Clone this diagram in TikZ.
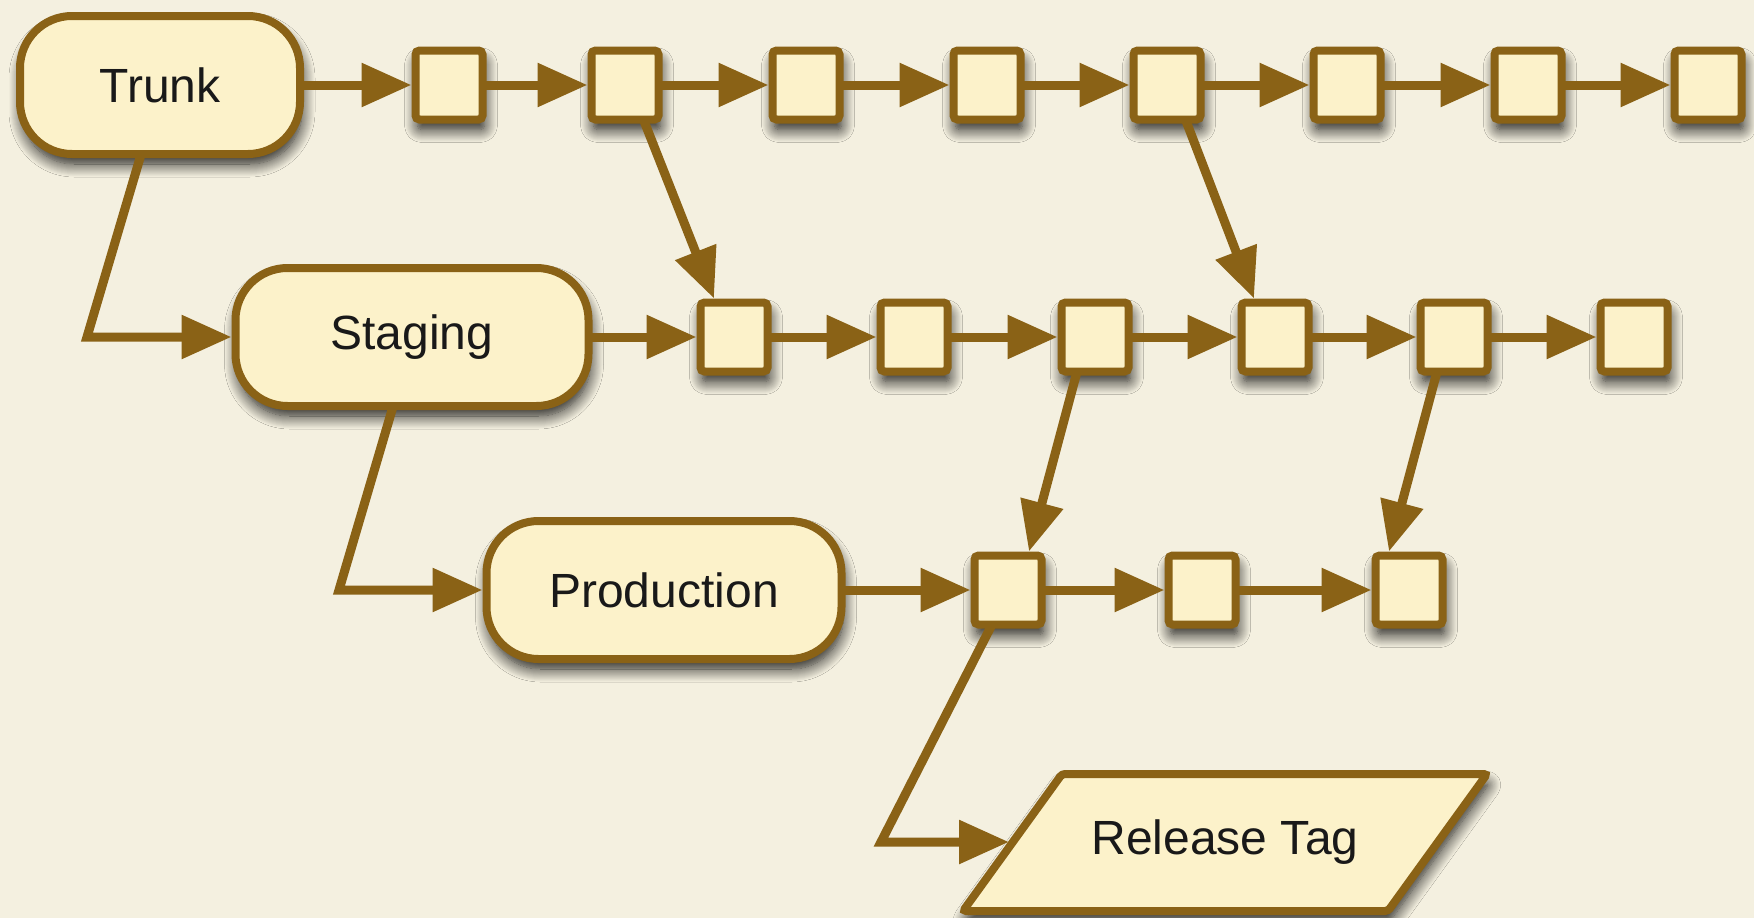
\documentclass[tikz,border=0pt]{standalone}
\usepackage{fontspec}
\setmainfont{Liberation Sans}
\usetikzlibrary{arrows.meta,shadows.blur,calc}
\definecolor{paper}{RGB}{244,240,224}
\definecolor{boxfill}{RGB}{252,242,202}
\definecolor{rim}{RGB}{138,98,22}
\definecolor{ink}{RGB}{25,25,25}
\tikzset{
  dropshadow/.style={blur shadow={shadow xshift=2pt, shadow yshift=-10pt,
      shadow blur radius=13pt, shadow blur steps=14, shadow opacity=90}},
  label font/.style={font=\fontsize{48}{57}\selectfont, text=ink},
  branch/.style={draw=rim, fill=boxfill, line width=8pt, rounded corners=52pt,
      minimum width=#1, minimum height=138pt, inner sep=0pt, label font, dropshadow},
  rev/.style={draw=rim, fill=boxfill, line width=8pt, rounded corners=4pt,
      minimum width=67pt, minimum height=69pt, inner sep=0pt, dropshadow},
  link/.style={draw=rim, line width=9pt, shorten <=-3pt,
      -{Triangle[length=50pt,width=42pt]}},
}
\begin{document}
\begin{tikzpicture}[x=1pt,y=-1pt]
  \path[use as bounding box, fill=paper] (0,0) rectangle (1754,918);

  % branch heads
  \node[branch=280pt] (trunk)      at (160,85)  {Trunk};
  \node[branch=353pt] (staging)    at (412,337) {Staging};
  \node[branch=355pt] (production) at (664,590) {Production};

  % revisions on each branch
  \foreach \x [count=\i] in {449,625,806,987,1167,1347,1528,1708}
    \node[rev] (t\i) at (\x,85) {};
  \foreach \x [count=\i] in {734,914,1095,1275,1454,1634}
    \node[rev] (m\i) at (\x,337) {};
  \foreach \x [count=\i] in {1008,1202,1409}
    \node[rev] (b\i) at (\x,590) {};

  % release tag
  \draw[draw=rim, fill=boxfill, line width=8pt, rounded corners=3pt, dropshadow]
    (1062,774) -- (1487,774) -- (1388,911) -- (963,911) -- cycle;
  \node[label font] (tag) at (1225,842) {Release Tag};
  \coordinate (tagin) at (1009,842);

  % history along each branch
  \draw[link] (trunk.east) -- (t1.west);
  \foreach \a/\b in {1/2,2/3,3/4,4/5,5/6,6/7,7/8}
    \draw[link] (t\a.east) -- (t\b.west);
  \draw[link] (staging.east) -- (m1.west);
  \foreach \a/\b in {1/2,2/3,3/4,4/5,5/6}
    \draw[link] (m\a.east) -- (m\b.west);
  \draw[link] (production.east) -- (b1.west);
  \foreach \a/\b in {1/2,2/3}
    \draw[link] (b\a.east) -- (b\b.west);

  % merges between branches
  \draw[link] ([xshift=20pt]t2.south) -- ([xshift=-20pt]m1.north);
  \draw[link] ([xshift=20pt]t5.south) -- ([xshift=-21pt]m4.north);
  \draw[link] ([xshift=-19pt]m3.south) -- ([xshift=21pt]b1.north);
  \draw[link] ([xshift=-18pt]m5.south) -- ([xshift=-20pt]b3.north);

  % branch creation
  \coordinate (c1) at (87,337);
  \draw[link] ([xshift=-20pt]trunk.south) -- (c1) -- (staging.west);
  \coordinate (c2) at (339,590);
  \draw[link] ([xshift=-20pt]staging.south) -- (c2) -- (production.west);
  \coordinate (c3) at (881,842);
  \draw[link] ([xshift=-18pt]b1.south) -- (c3) -- (tagin);
\end{tikzpicture}
\end{document}
